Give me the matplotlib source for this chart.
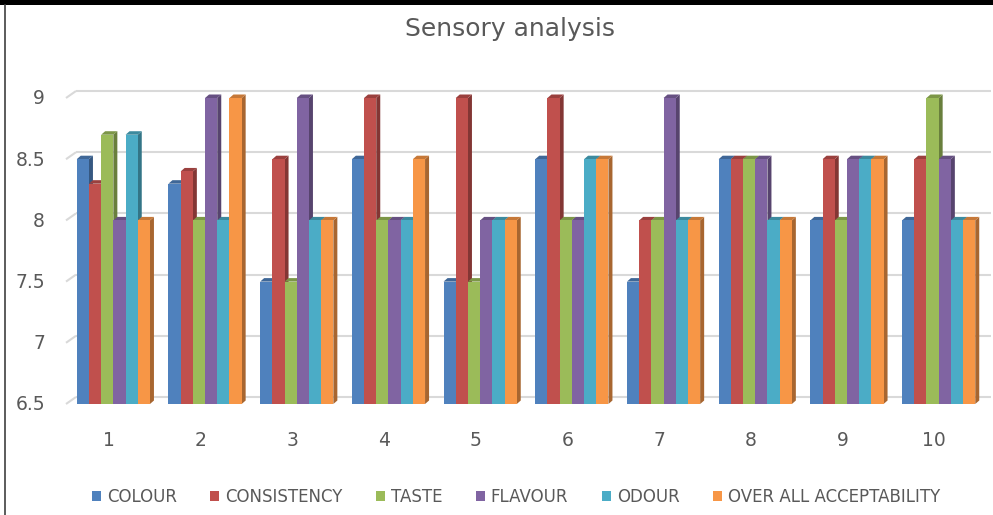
import matplotlib
matplotlib.use("Agg")
import matplotlib.pyplot as plt
from matplotlib.patches import Polygon, Rectangle
import matplotlib.colors as mc

# ---- data ----
samples = ["1", "2", "3", "4", "5", "6", "7", "8", "9", "10"]
colour = [8.5, 8.3, 7.5, 8.5, 7.5, 8.5, 7.5, 8.5, 8.0, 8.0]
consistency = [8.3, 8.4, 8.5, 9.0, 9.0, 9.0, 8.0, 8.5, 8.5, 8.5]
taste = [8.7, 8.0, 7.5, 8.0, 7.5, 8.0, 8.0, 8.5, 8.0, 9.0]
flavour = [8.0, 9.0, 9.0, 8.0, 8.0, 8.0, 9.0, 8.5, 8.5, 8.5]
odour = [8.7, 8.0, 8.0, 8.0, 8.0, 8.5, 8.0, 8.0, 8.5, 8.0]
overall = [8.0, 9.0, 8.0, 8.5, 8.0, 8.5, 8.0, 8.0, 8.5, 8.0]
series_names = ["COLOUR", "CONSISTENCY", "TASTE", "FLAVOUR", "ODOUR", "OVER ALL ACCEPTABILITY"]
y_ticks = [6.5, 7, 7.5, 8, 8.5, 9]

series = [colour, consistency, taste, flavour, odour, overall]
colors = ["#4F81BD", "#C0504D", "#9BBB59", "#8064A2", "#4BACC6", "#F79646"]

W, H = 993, 515
fig = plt.figure(figsize=(W / 100, H / 100), dpi=100)

left_px, right_px, top_px, bot_px = 66, 983, 98, 404
ax = fig.add_axes([left_px / W, 1 - bot_px / H, (right_px - left_px) / W, (bot_px - top_px) / H])
ax.set_xlim(0.5, 10.5)
ax.set_ylim(6.5, 9)
ax.axis("off")

pxx = (right_px - left_px) / 10.0
pxy = (bot_px - top_px) / 2.5


def shade(c, f):
    r, g, b = mc.to_rgb(c)
    return (r * f, g * f, b * f)


# back wall gridlines (3D offset)
gdx, gdy = 10 / pxx, 7 / pxy
for v in y_ticks:
    ax.plot([0.5, 0.5 + gdx], [v, v + gdy], color="#d9d9d9", lw=1.5, zorder=0, clip_on=False,
            solid_capstyle="butt")
    ax.plot([0.5 + gdx, 10.5 + gdx * 0.8], [v + gdy, v + gdy], color="#d9d9d9", lw=1.5, zorder=0,
            clip_on=False, solid_capstyle="butt")

# tick labels
for v in y_ticks:
    ax.annotate("%g" % v, xy=(0.5, v), xytext=(-21, -1), textcoords="offset pixels",
                ha="right", va="center", fontsize=13.5, color="#595959", annotation_clip=False)
for i, s in enumerate(samples):
    ax.annotate(s, xy=(i + 1, 6.5), xytext=(-3, -36), textcoords="offset pixels",
                ha="center", va="center", fontsize=13.5, color="#595959", annotation_clip=False)

# bars with pseudo-3D faces
nser = len(series)
bw = 12.2 / pxx
group_w = bw * nser
ddx, ddy = 4 / pxx, 3.5 / pxy
z = 2
for i in range(len(samples)):
    x0 = (i + 1) - group_w / 2 + 1.5 / pxx
    for j in range(nser):
        v = series[j][i]
        xl = x0 + j * bw
        xr = xl + bw
        base = 6.5
        side = Polygon([(xr, base), (xr, v), (xr + ddx, v + ddy), (xr + ddx, base + ddy)],
                       closed=True, facecolor=shade(colors[j], 0.68), edgecolor="none",
                       zorder=z, clip_on=False)
        top = Polygon([(xl, v), (xr, v), (xr + ddx, v + ddy), (xl + ddx, v + ddy)],
                      closed=True, facecolor=shade(colors[j], 0.8), edgecolor="none",
                      zorder=z, clip_on=False)
        front = Rectangle((xl, base), bw, v - base, facecolor=colors[j], edgecolor="none",
                          zorder=z + 0.5, clip_on=False)
        ax.add_patch(side)
        ax.add_patch(top)
        ax.add_patch(front)
        z += 1

# title
fig.text(510 / W, 1 - 29 / H, "Sensory analysis", ha="center", va="center", fontsize=18,
         color="#595959")

# legend
handles = [Rectangle((0, 0), 1, 1, facecolor=c, edgecolor="none") for c in colors]
leg = fig.legend(handles, series_names, loc="center", bbox_to_anchor=(516 / W, 1 - 497 / H),
                 ncol=6, frameon=False, fontsize=12, handlelength=0.55, handleheight=0.55,
                 handletextpad=0.35, columnspacing=2.0)
for t in leg.get_texts():
    t.set_color("#595959")

# border
fig.patches.append(Rectangle((0, 1 - 5 / H), 1, 5 / H, transform=fig.transFigure,
                             facecolor="black", edgecolor="none"))
fig.add_artist(plt.Line2D([4.5 / W, 4.5 / W], [0, 1 - 5 / H], transform=fig.transFigure,
                          color="#404040", lw=1.2))

fig.savefig("out.png", dpi=100)
